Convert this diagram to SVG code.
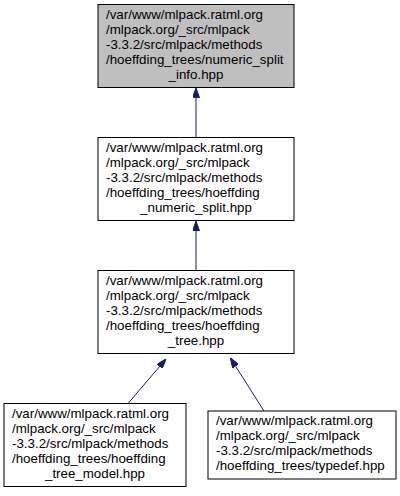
<svg xmlns="http://www.w3.org/2000/svg" width="400" height="496" viewBox="0 0 400 496">
<style>
.node rect{stroke:#000;stroke-width:1}
.node text{font-family:"Liberation Sans",Arial,Helvetica,sans-serif;font-size:13.33px;fill:#000}
.mid{text-anchor:middle}
.edge{stroke:#191970;stroke-width:1;fill:none;marker-end:url(#ah)}
</style>
<defs>
<marker id="ah" viewBox="0 0 10 7" refX="0" refY="3.5" markerWidth="10" markerHeight="7" markerUnits="userSpaceOnUse" orient="auto">
<path d="M0,0 L10,3.5 L0,7 z" fill="#191970" stroke="#191970"/>
</marker>
</defs>
<rect width="400" height="496" fill="#fff"/>
<g id="connectors">
<path class="edge" d="M196,137.5 L196,97.8"/>
<path class="edge" d="M196,270.5 L196,231"/>
<path class="edge" d="M128,403.5 L159.5,366.6"/>
<path class="edge" d="M264,411 L235.6,366.3"/>
</g>
<g id="node1" class="node">
<rect x="98" y="4.5" width="196" height="83" fill="#bfbfbf"/>
<text x="106" y="18.5">/var/www/mlpack.ratml.org</text>
<text x="106" y="33.5">/mlpack.org/_src/mlpack</text>
<text x="106" y="48.5">-3.3.2/src/mlpack/methods</text>
<text x="106" y="63.5">/hoeffding_trees/numeric_split</text>
<text x="196" y="78.5" class="mid">_info.hpp</text>
</g>
<g id="node2" class="node">
<rect x="98" y="137.5" width="196" height="83" fill="#fff"/>
<text x="106" y="151.5">/var/www/mlpack.ratml.org</text>
<text x="106" y="166.5">/mlpack.org/_src/mlpack</text>
<text x="106" y="181.5">-3.3.2/src/mlpack/methods</text>
<text x="106" y="196.5">/hoeffding_trees/hoeffding</text>
<text x="196" y="211.5" class="mid">_numeric_split.hpp</text>
</g>
<g id="node3" class="node">
<rect x="98" y="270.5" width="196" height="83" fill="#fff"/>
<text x="106" y="284.5">/var/www/mlpack.ratml.org</text>
<text x="106" y="299.5">/mlpack.org/_src/mlpack</text>
<text x="106" y="314.5">-3.3.2/src/mlpack/methods</text>
<text x="106" y="329.5">/hoeffding_trees/hoeffding</text>
<text x="196" y="344.5" class="mid">_tree.hpp</text>
</g>
<g id="node4" class="node">
<rect x="4" y="403.5" width="182" height="83" fill="#fff"/>
<text x="12" y="417.5">/var/www/mlpack.ratml.org</text>
<text x="12" y="432.5">/mlpack.org/_src/mlpack</text>
<text x="12" y="447.5">-3.3.2/src/mlpack/methods</text>
<text x="12" y="462.5">/hoeffding_trees/hoeffding</text>
<text x="95" y="477.5" class="mid">_tree_model.hpp</text>
</g>
<g id="node5" class="node">
<rect x="208" y="411" width="188" height="68" fill="#fff"/>
<text x="216" y="425">/var/www/mlpack.ratml.org</text>
<text x="216" y="440">/mlpack.org/_src/mlpack</text>
<text x="216" y="455">-3.3.2/src/mlpack/methods</text>
<text x="216" y="470">/hoeffding_trees/typedef.hpp</text>
</g>
</svg>
